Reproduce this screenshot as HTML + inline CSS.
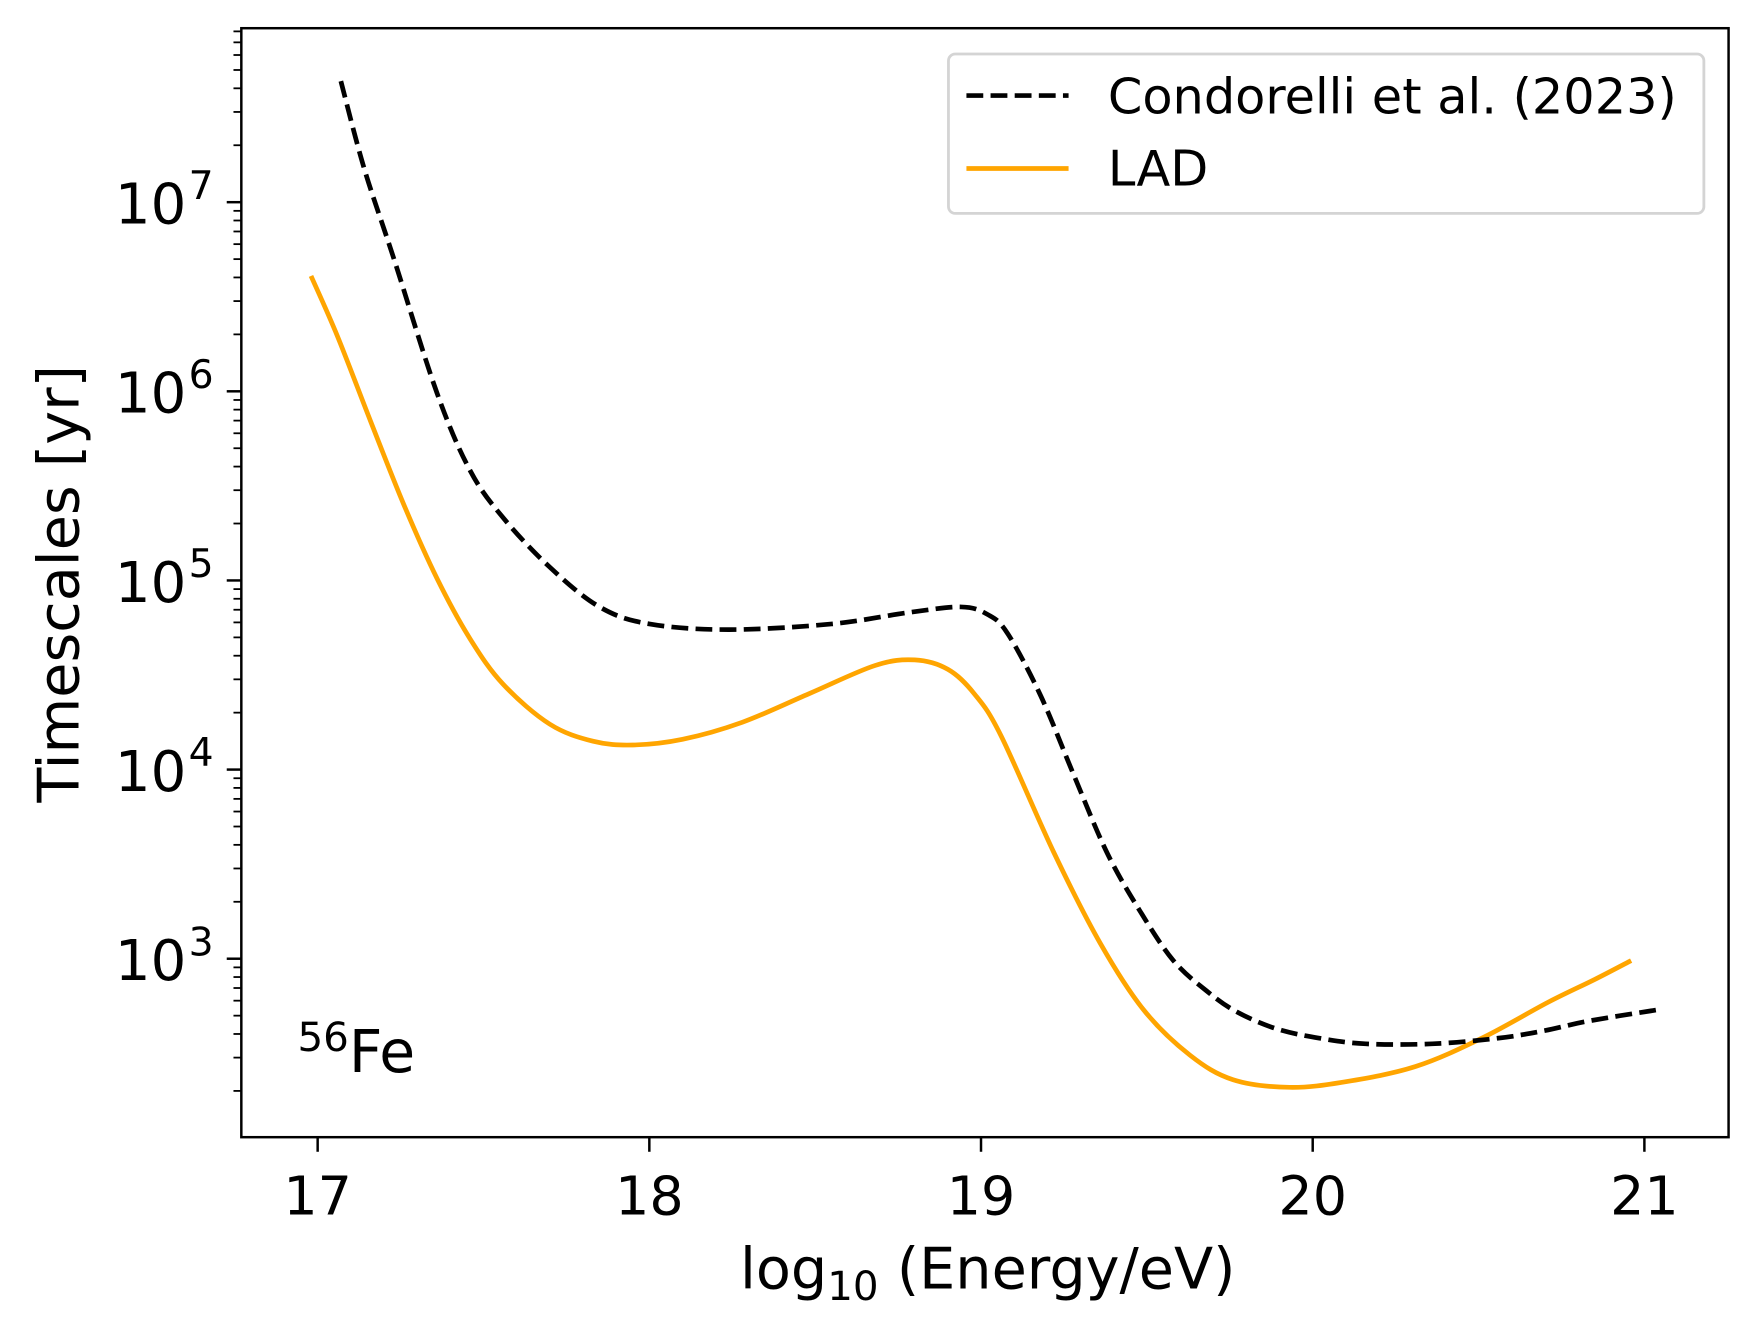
<!DOCTYPE html>
<html><head><meta charset="utf-8"><style>
html,body{margin:0;padding:0;background:#fff}
svg{display:block}
text{font-family:"DejaVu Sans","Liberation Sans",sans-serif;fill:#000}
</style></head><body>
<svg id="chart" width="1760" height="1336" viewBox="0 0 1568 1190" xmlns="http://www.w3.org/2000/svg">
<g id="plot"></g>
<text x="880" y="1148" font-size="51" text-anchor="middle">log<tspan font-size="36" dy="10">10</tspan><tspan dy="-10"> (Energy/eV)</tspan></text>
<text transform="translate(70,520) rotate(-90)" font-size="51" text-anchor="middle">Timescales [yr]</text>
<text x="265" y="955" font-size="52"><tspan font-size="36" dy="-19">56</tspan><tspan dy="19">Fe</tspan></text>
<g>
<rect x="845" y="48" width="673" height="142" rx="6" fill="#fff" stroke="#d4d4d4" stroke-width="2.5"/>
<line x1="861" y1="85" x2="952" y2="85" stroke="#000" stroke-width="4.2" stroke-dasharray="15,6.5"/>
<text x="987" y="101" font-size="44">Condorelli et al. (2023)</text>
<line x1="861" y1="150" x2="952" y2="150" stroke="#ffa500" stroke-width="4.2"/>
<text x="987" y="165" font-size="44">LAD</text>
</g>
</svg>
<script>
const xTicks = [17, 18, 19, 20, 21];
const yDecades = [3, 4, 5, 6, 7];
const condX = [17.07,17.14,17.23,17.36,17.46,17.56,17.70,17.85,18.00,18.24,18.55,18.78,18.94,19.02,19.08,19.18,19.28,19.38,19.48,19.58,19.68,19.77,19.89,20.02,20.16,20.36,20.56,20.70,20.83,21.04];
const condY = [7.64,7.18,6.70,5.99,5.58,5.33,5.07,4.86,4.77,4.74,4.77,4.83,4.86,4.82,4.72,4.39,3.97,3.56,3.25,2.99,2.83,2.72,2.63,2.58,2.55,2.55,2.58,2.62,2.67,2.73];
const ladX = [16.98,17.06,17.16,17.26,17.36,17.46,17.56,17.70,17.83,17.95,18.10,18.28,18.48,18.68,18.80,18.90,18.98,19.06,19.22,19.36,19.49,19.63,19.76,19.93,20.10,20.31,20.51,20.71,20.85,20.96];
const ladY = [6.61,6.29,5.84,5.40,5.01,4.69,4.45,4.24,4.15,4.13,4.16,4.25,4.40,4.55,4.58,4.53,4.40,4.18,3.56,3.08,2.73,2.49,2.36,2.32,2.35,2.43,2.58,2.77,2.89,2.99];

const L=215,R=1540,T=25,B=1013;
const sx = v => 283 + (v-17)*295.5;
const sy = v => 180 + (7-v)*168.5;
const NS="http://www.w3.org/2000/svg";
const g=document.getElementById('plot');
function mk(tag,attrs,parent){const e=document.createElementNS(NS,tag);for(const k in attrs)e.setAttribute(k,attrs[k]);(parent||g).appendChild(e);return e;}
function pathD(xs,ys){
  const p=xs.map((x,i)=>[sx(x),sy(ys[i])]);
  let d='M'+p[0][0]+','+p[0][1];
  for(let i=0;i<p.length-1;i++){
    const p0=p[i-1]||p[i],p1=p[i],p2=p[i+1],p3=p[i+2]||p[i+1];
    const c1=[p1[0]+(p2[0]-p0[0])/6,p1[1]+(p2[1]-p0[1])/6];
    const c2=[p2[0]-(p3[0]-p1[0])/6,p2[1]-(p3[1]-p1[1])/6];
    d+=' C'+c1[0]+','+c1[1]+' '+c2[0]+','+c2[1]+' '+p2[0]+','+p2[1];
  }
  return d;
}
const lad=mk('path',{d:pathD(ladX,ladY),fill:'none',stroke:'#ffa500','stroke-width':4.2});


const cond=mk('path',{d:pathD(condX,condY),fill:'none',stroke:'#000','stroke-width':4.2,'stroke-dasharray':'15,6.5'});


const frame=mk('rect',{x:L,y:T,width:R-L,height:B-T,fill:'none',stroke:'#000','stroke-width':2.2});


xTicks.forEach(v=>{
  const x=sx(v);
  const t=mk('line',{x1:x,x2:x,y1:B,y2:B+13,stroke:'#000','stroke-width':2.2});
  
  
  const lb=mk('text',{x:x,y:B+69,'font-size':48,'text-anchor':'middle'});
  lb.textContent=v;
  
  
});
const yMin=7-(B-180)/168.5, yMax=7+(180-T)/168.5;
for(let d=Math.floor(yMin);d<=Math.ceil(yMax);d++){
  for(let m=1;m<10;m++){
    const lv=d+Math.log10(m);
    if(lv<yMin||lv>yMax)continue;
    const y=sy(lv);
    const t=mk('line',{x1:L,x2:L-(m==1?13:7),y1:y,y2:y,stroke:'#000','stroke-width':m==1?2.2:1.6});
    
    
  }
}
yDecades.forEach(d=>{
  const y=sy(d);
  const lb=mk('text',{x:166,y:y+19,'font-size':50,'text-anchor':'end'});
  lb.textContent='10';
  
  
  const sp=mk('text',{x:168,y:y-3,'font-size':35});
  sp.textContent=d;
  
  
});
</script>
</body></html>
